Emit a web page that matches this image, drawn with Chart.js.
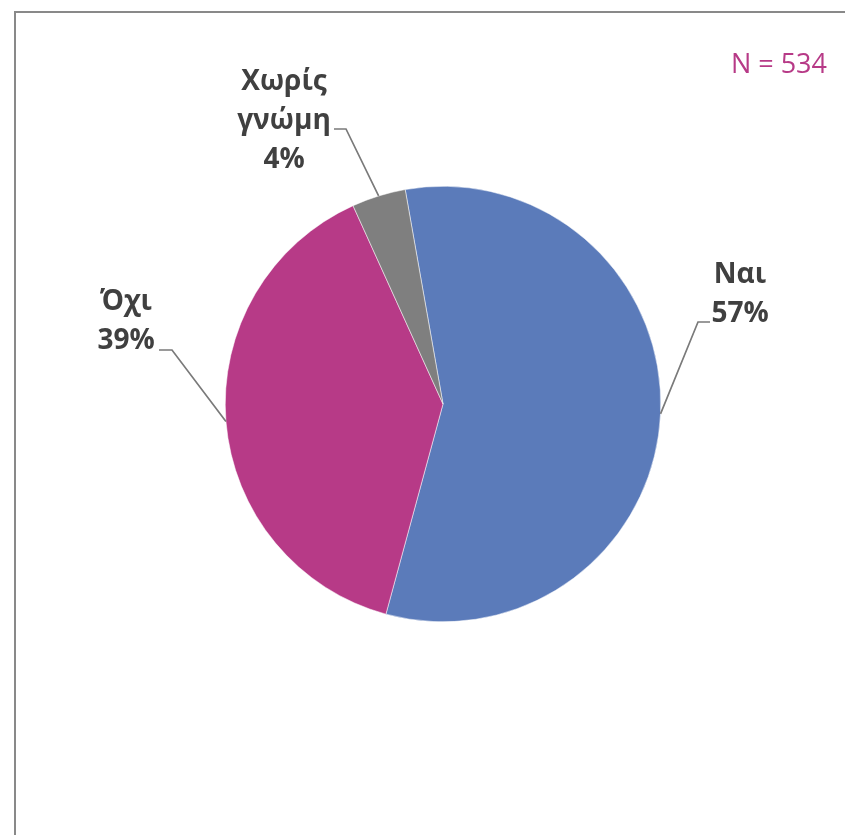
<!DOCTYPE html>
<html>
<head>
<meta charset="utf-8">
<script src="https://cdn.jsdelivr.net/npm/chart.js@4"></script>
<style>
    html, body { margin: 0; padding: 0; background: #fff; }
    body { width: 845px; height: 835px; position: relative; overflow: hidden; }
    #frame {
        position: absolute; left: 14px; top: 11px; width: 900px; height: 900px;
        border-left: 2px solid #898989; border-top: 2px solid #898989;
    }
    #wrap { position: absolute; left: 0; top: 0; width: 845px; height: 835px; }
</style>
</head>
<body>
<div id="frame"></div>
<div id="wrap"><canvas id="pieChart"></canvas></div>
<script>
// 数据
const categories = ['Ναι', 'Όχι', 'Χωρίς γνώμη'];
const shares = [57, 39, 4];
const sampleSize = 534;
const sliceColors = ['#5B7BBA', '#B73A87', '#7F7F7F'];

// 标签位置 (标签中心 x, 第一行基线 y, 引线起点, 拐点)
const labelSpots = [
    { lines: ['Ναι'], cx: 740, y: 283, from: [710, 322], elbow: [698, 322] },
    { lines: ['Όχι'], cx: 126, y: 310, from: [159, 350], elbow: [172, 350] },
    { lines: ['Χωρίς', 'γνώμη'], cx: 284, y: 90, from: [334, 129], elbow: [346, 129] }
];

const labelPlugin = {
    id: 'leaderLabels',
    afterDraw(chart) {
        const ctx = chart.ctx;
        const arcs = chart.getDatasetMeta(0).data;
        const total = shares.reduce((a, b) => a + b, 0);
        ctx.save();
        arcs.forEach((arc, i) => {
            const spot = labelSpots[i];
            const mid = (arc.startAngle + arc.endAngle) / 2;
            const ax = arc.x + Math.cos(mid) * arc.outerRadius;
            const ay = arc.y + Math.sin(mid) * arc.outerRadius;
            // 引线
            ctx.strokeStyle = '#7a7a7a';
            ctx.lineWidth = 1.7;
            ctx.beginPath();
            ctx.moveTo(spot.from[0], spot.from[1]);
            ctx.lineTo(spot.elbow[0], spot.elbow[1]);
            ctx.lineTo(ax, ay);
            ctx.stroke();
            // 文字
            ctx.fillStyle = '#404040';
            ctx.font = 'bold 28px "Open Sans"';
            ctx.textAlign = 'center';
            ctx.textBaseline = 'alphabetic';
            const lines = spot.lines.concat([Math.round(shares[i] / total * 100) + '%']);
            lines.forEach((t, k) => ctx.fillText(t, spot.cx, spot.y + k * 39));
        });
        // 样本数
        ctx.fillStyle = '#B73A87';
        ctx.font = '27px "Open Sans"';
        ctx.textAlign = 'right';
        ctx.fillText('N = ' + sampleSize, 827, 73);
        ctx.restore();
    }
};

new Chart(document.getElementById('pieChart').getContext('2d'), {
    type: 'pie',
    data: {
        labels: categories,
        datasets: [{
            data: shares,
            backgroundColor: sliceColors,
            borderColor: '#ffffff',
            borderWidth: 0.5
        }]
    },
    options: {
        responsive: true,
        maintainAspectRatio: false,
        animation: false,
        rotation: -10,
        layout: { padding: { left: 225, right: 184, top: 186, bottom: 213 } },
        plugins: { legend: { display: false }, tooltip: { enabled: false } }
    },
    plugins: [labelPlugin]
});
</script>
</body>
</html>
